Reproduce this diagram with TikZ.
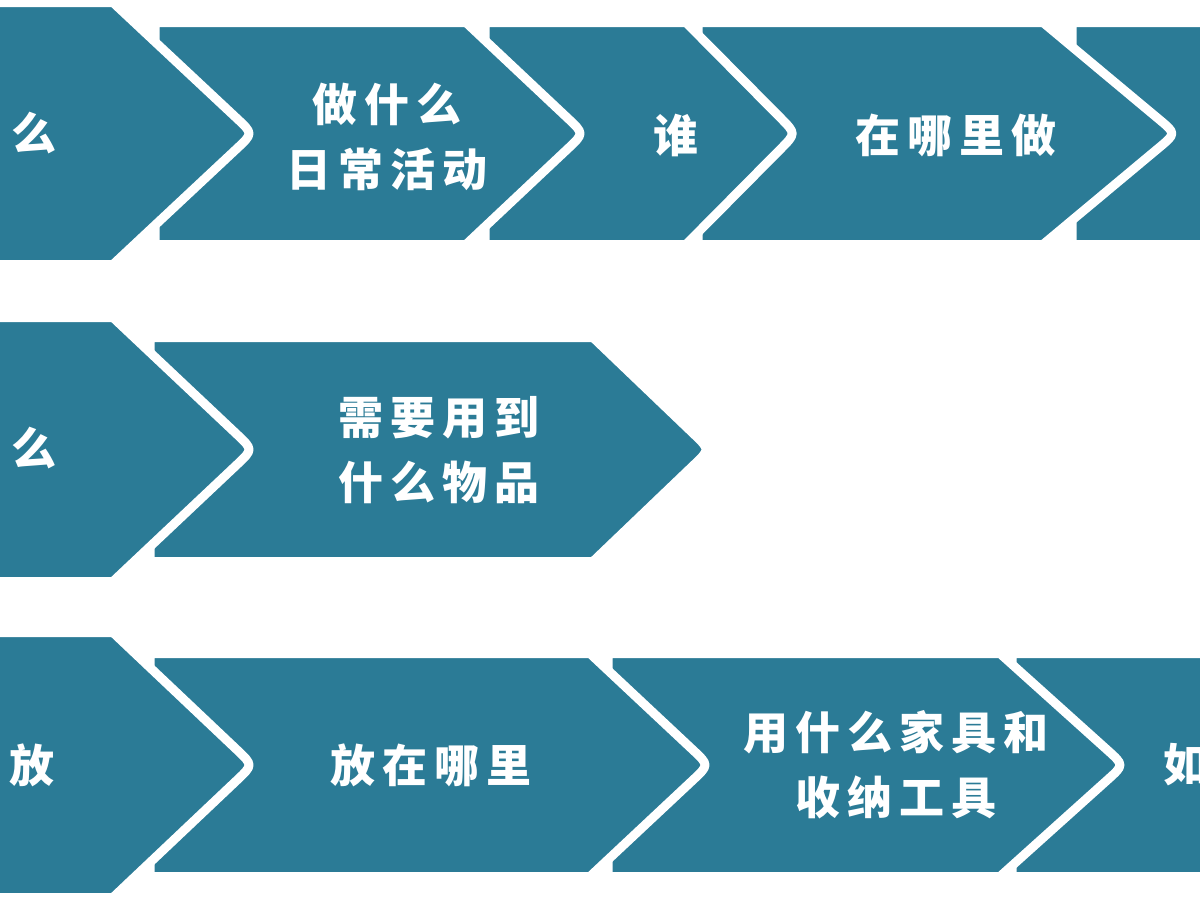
\documentclass[tikz,border=0pt]{standalone}
\usepackage{fontspec}
\usetikzlibrary{calc}
\newfontfamily\cjk{Noto Sans CJK SC}
\newfontfamily\cjks[LetterSpace=16]{Noto Sans CJK SC}
\definecolor{teal1}{HTML}{2B7B96}
\tikzset{
  chevpath/.style={fill=teal1, draw=white, line width=9pt, line join=round},
  lbl/.style={text=white, inner sep=0pt, align=center, font=\cjks\bfseries\fontsize{45}{65}\selectfont},
  part/.style={text=white, inner sep=0pt, font=\cjk\bfseries\fontsize{45}{65}\selectfont}
}
% #1 left, #2 top, #3 bottom, #4 corner x, #5 tip x, #6 name
\newcommand\chevshape[6]{%
  \coordinate (#6-a) at (#1,#2);
  \coordinate (#6-b) at (#4,#2);
  \coordinate (#6-t) at (#5,{(#2+#3)/2});
  \coordinate (#6-c) at (#4,#3);
  \coordinate (#6-d) at (#1,#3);
  \filldraw[chevpath] (#6-a) -- (#6-b) -- ($(#6-t)!22pt!(#6-b)$) .. controls (#6-t) .. ($(#6-t)!22pt!(#6-c)$) -- (#6-c) -- (#6-d) -- cycle;
}
\begin{document}
\begin{tikzpicture}[x=1pt,y=-1pt]
\useasboundingbox (0,0) rectangle (1200,900);
\clip (0,0) rectangle (1200,900);
% row 1 (right to left so that each tip lies over the next shape)
\chevshape{1072}{22.5}{244.5}{1300}{1400}{ra5}
\chevshape{698}{22.5}{244.5}{1043}{1176}{ra4}
\chevshape{485}{22.5}{244.5}{686}{796}{ra3}
\chevshape{155}{22.5}{244.5}{466}{584}{ra2}
\chevshape{-60}{2.5}{264.5}{113}{253}{ra1}
% row 2
\chevshape{150}{337.5}{561.5}{593}{710}{rb2}
\chevshape{-60}{317.5}{581.5}{113}{253}{rb1}
% row 3
\chevshape{1012}{653.5}{876.5}{1300}{1400}{rc4}
\chevshape{608}{653.5}{876.5}{1000}{1124}{rc3}
\chevshape{150}{653.5}{876.5}{590}{709}{rc2}
\chevshape{-60}{632.5}{897.5}{113}{253}{rc1}
% texts
\node[part, anchor=east] (ta1) at (57,133) {么};
\node[lbl] (ta2) at (387,137) {做什么\\日常活动};
\node[lbl] (ta3) at (676,135) {谁};
\node[lbl] (ta4) at (956,135) {在哪里做};
\node[part, anchor=east] (tb1) at (57,448) {么};
\node[lbl] (tb2) at (439,450) {需要用到\\什么物品};
\node[part, anchor=east] (tc1) at (55,765) {放};
\node[lbl] (tc2) at (431,765) {放在哪里};
\node[lbl] (tc3) at (896,765) {用什么家具和\\收纳工具};
\node[part, anchor=west] (tc4) at (1163,765) {如};
\end{tikzpicture}
\end{document}
